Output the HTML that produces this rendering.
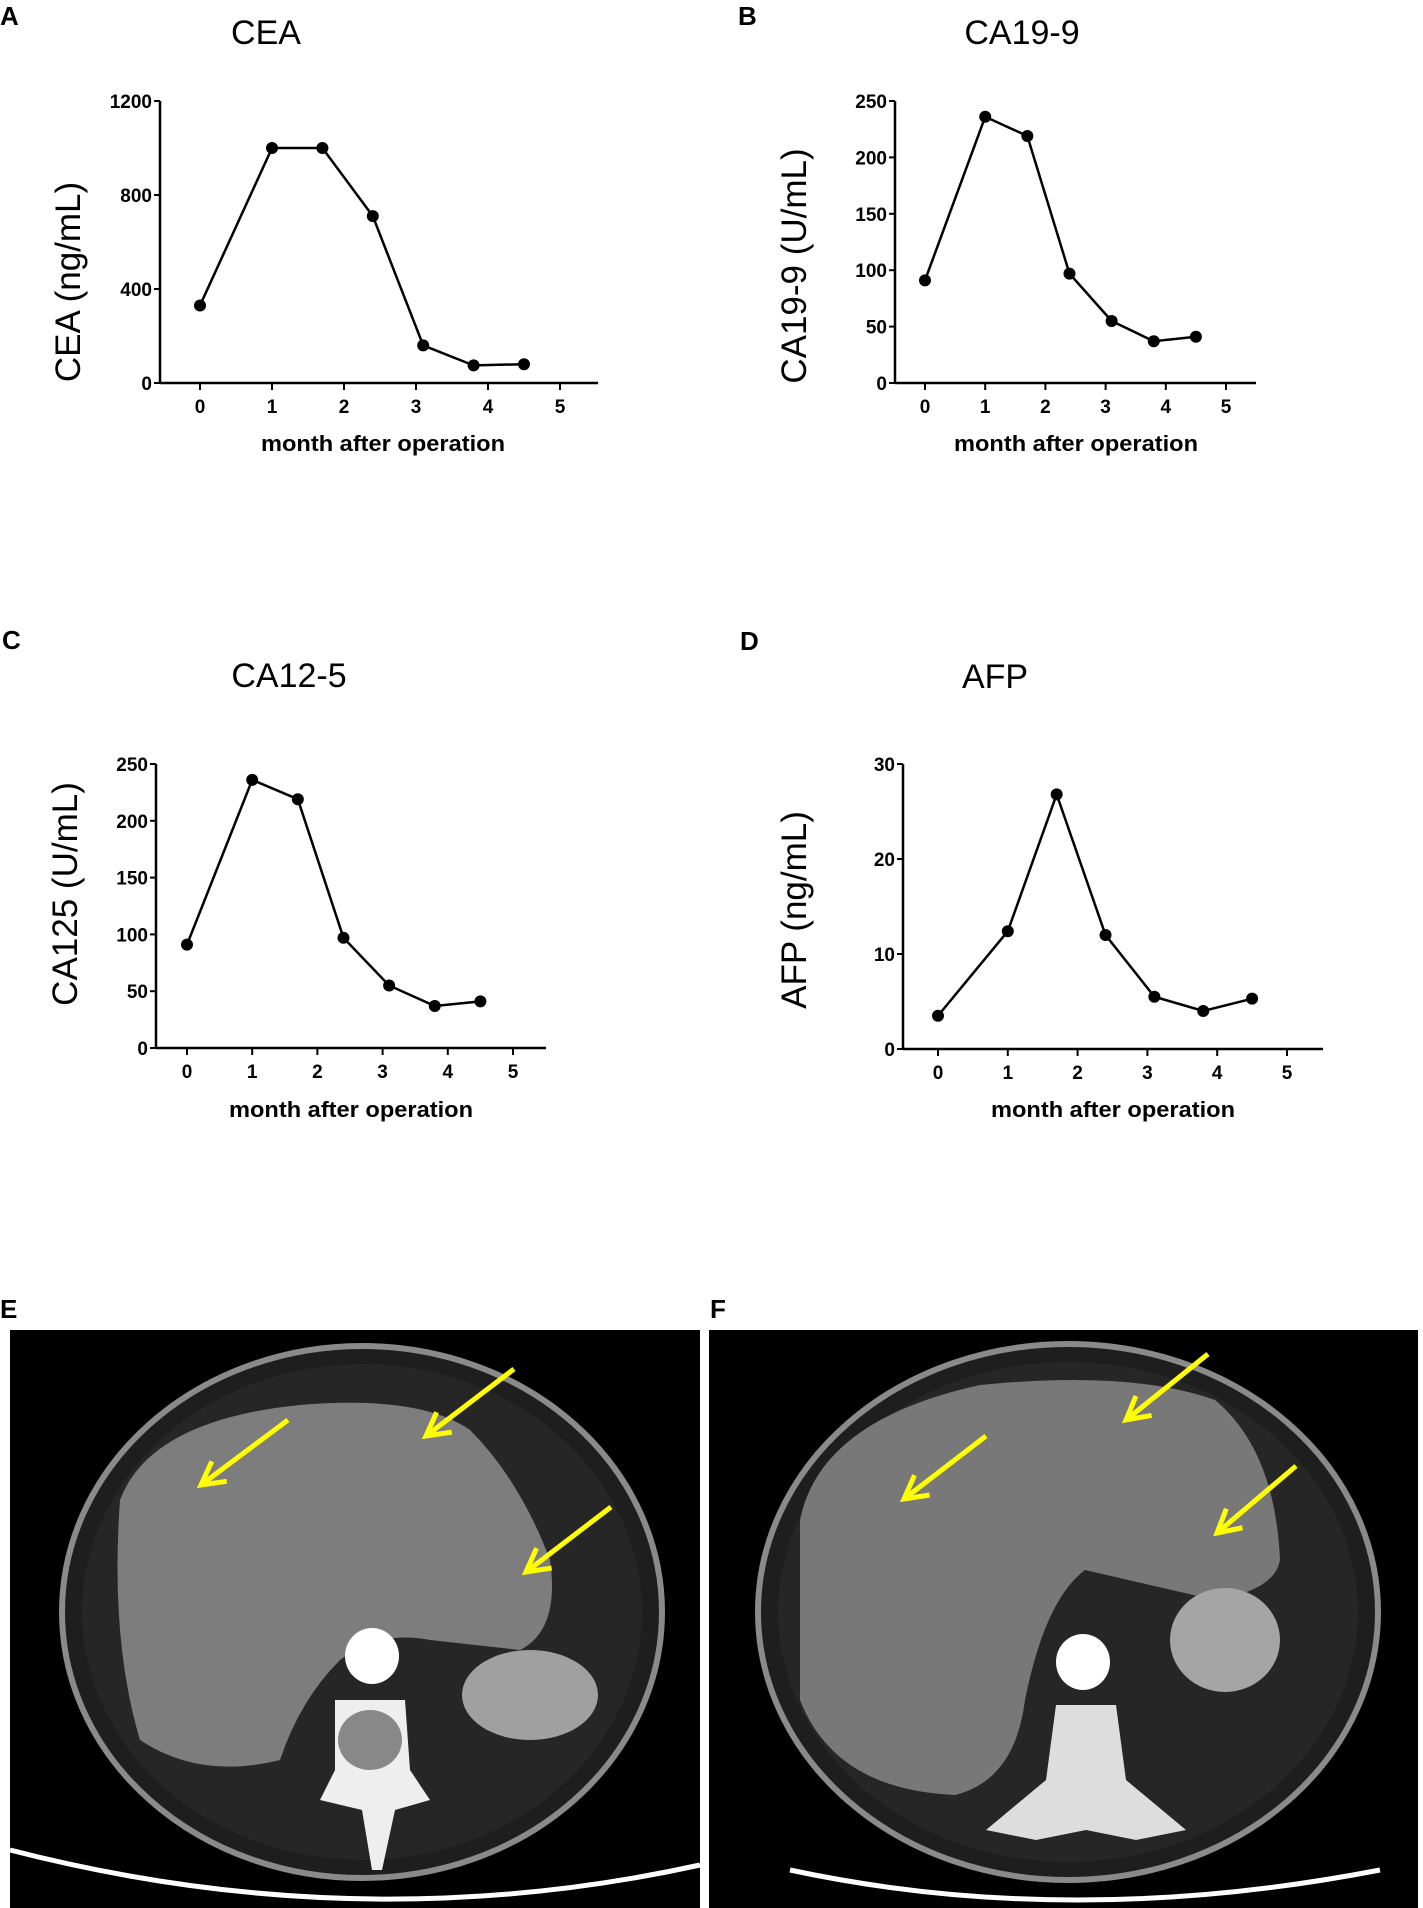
<!DOCTYPE html>
<html><head><meta charset="utf-8"><style>
html,body{margin:0;padding:0;background:#fff;}
svg{display:block;}
.lab{font-family:"Liberation Sans",sans-serif;font-weight:bold;font-size:26px;}
.ttl{font-family:"Liberation Sans",sans-serif;font-size:34px;}
.yt{font-family:"Liberation Sans",sans-serif;font-size:35px;}
.tk{font-family:"Liberation Sans Narrow","Liberation Sans",sans-serif;font-weight:bold;font-size:19px;}
.xt{font-family:"Liberation Sans",sans-serif;font-weight:bold;font-size:22px;}
</style></head><body>
<svg id="fig" width="1423" height="1908" viewBox="0 0 1423 1908" xmlns="http://www.w3.org/2000/svg">
<text class="lab" x="0" y="25">A</text>
<text class="lab" x="738" y="25">B</text>
<text class="lab" x="2" y="649">C</text>
<text class="lab" x="740" y="650">D</text>
<text class="lab" x="0" y="1318">E</text>
<text class="lab" x="710" y="1318">F</text>
<g id="charts"></g>
<g id="ct-e">
  <rect x="10" y="1330" width="690" height="578" fill="#000"/>
  <ellipse cx="362" cy="1612" rx="300" ry="266" fill="#1e1e1e" stroke="#8a8a8a" stroke-width="6"/>
  <ellipse cx="362" cy="1612" rx="280" ry="248" fill="#262626"/>
  <path d="M120 1500 Q150 1420 300 1405 Q420 1395 470 1430 Q520 1480 550 1560 Q560 1630 520 1650 L430 1640 Q380 1630 340 1660 Q300 1700 280 1760 Q200 1780 140 1740 Q110 1640 120 1500Z" fill="#7d7d7d"/>
  <ellipse cx="530" cy="1695" rx="68" ry="45" fill="#a0a0a0"/>
  <ellipse cx="372" cy="1656" rx="27" ry="28" fill="#fff"/>
  <path d="M335 1700 L405 1700 L410 1770 L430 1800 L395 1810 L382 1870 L372 1870 L362 1810 L320 1800 L335 1770Z" fill="#eee"/>
  <ellipse cx="370" cy="1740" rx="32" ry="30" fill="#888"/>
  <path d="M10 1850 Q360 1940 700 1865" stroke="#fff" stroke-width="5" fill="none"/>
</g>
<g id="ct-f">
  <rect x="709" y="1330" width="709" height="578" fill="#000"/>
  <ellipse cx="1068" cy="1612" rx="310" ry="268" fill="#1e1e1e" stroke="#8a8a8a" stroke-width="6"/>
  <ellipse cx="1068" cy="1612" rx="290" ry="250" fill="#262626"/>
  <path d="M800 1520 Q820 1420 980 1385 Q1130 1370 1215 1400 Q1275 1450 1280 1560 Q1275 1590 1215 1600 L1085 1570 Q1045 1600 1025 1700 Q1015 1780 955 1795 Q835 1790 800 1700Z" fill="#787878"/>
  <ellipse cx="1225" cy="1640" rx="55" ry="52" fill="#a5a5a5"/>
  <ellipse cx="1083" cy="1662" rx="27" ry="28" fill="#fff"/>
  <path d="M1056 1705 L1116 1705 L1126 1780 L1186 1830 L1136 1840 L1086 1830 L1036 1840 L986 1830 L1046 1780Z" fill="#ddd"/>
  <path d="M790 1870 Q1070 1930 1380 1870" stroke="#fff" stroke-width="5" fill="none"/>
</g>
<g id="arrows"></g>
</svg>
<script>
// ---- data (one set of arrays per chart) ----
const months = [0, 1, 1.7, 2.4, 3.1, 3.8, 4.5];
const xTicks = [0, 1, 2, 3, 4, 5];
const ceaValues = [330, 1000, 1000, 710, 160, 75, 80];
const ceaTicks = [0, 400, 800, 1200];
const ca199Values = [91, 236, 219, 97, 55, 37, 41];
const ca199Ticks = [0, 50, 100, 150, 200, 250];
const ca125Values = [91, 236, 219, 97, 55, 37, 41];
const ca125Ticks = [0, 50, 100, 150, 200, 250];
const afpValues = [3.5, 12.4, 26.8, 12, 5.5, 4, 5.3];
const afpTicks = [0, 10, 20, 30];

const NS = 'http://www.w3.org/2000/svg';
function mk(tag, attrs, parent){const e=document.createElementNS(NS,tag);for(const k in attrs)e.setAttribute(k,attrs[k]);parent.appendChild(e);return e;}

const layouts = [
 {key:'cea', title:'CEA', ytitle:'CEA (ng/mL)', vals:ceaValues, ticks:ceaTicks, ax:160, y0:383, yTop:101, x0:200, x5:560, axEnd:598, tx:266, ty:44, ytx:67, yty:282, xlx:383, xly:451},
 {key:'ca199', title:'CA19-9', ytitle:'CA19-9 (U/mL)', vals:ca199Values, ticks:ca199Ticks, ax:895, y0:383, yTop:101, x0:925, x5:1226, axEnd:1256, tx:1022, ty:44, ytx:793, yty:266, xlx:1076, xly:451},
 {key:'ca125', title:'CA12-5', ytitle:'CA125 (U/mL)', vals:ca125Values, ticks:ca125Ticks, ax:156, y0:1048, yTop:764, x0:187, x5:513, axEnd:546, tx:289, ty:687, ytx:64, yty:894, xlx:351, xly:1117},
 {key:'afp', title:'AFP', ytitle:'AFP (ng/mL)', vals:afpValues, ticks:afpTicks, ax:903, y0:1049, yTop:764, x0:938, x5:1287, axEnd:1323, tx:995, ty:688, ytx:793, yty:910, xlx:1113, xly:1117}
];
const root = document.getElementById('charts');
layouts.forEach(L=>{
  const g = mk('g',{},root);
  
  
  const yMax = L.ticks[L.ticks.length-1];
  const sy = v => L.y0 - (v/yMax)*(L.y0-L.yTop);
  const sx = m => L.x0 + m*(L.x5-L.x0)/5;
  const t = mk('text',{x:L.tx,y:L.ty,'text-anchor':'middle',class:'ttl'},g); t.textContent=L.title;
  
  
  const yt = mk('text',{x:0,y:0,'text-anchor':'middle',class:'yt',transform:`translate(${L.ytx+13},${L.yty}) rotate(-90)`},g); yt.textContent=L.ytitle;
  
  
  const xl = mk('text',{x:L.xlx,y:L.xly,'text-anchor':'middle',class:'xt',textLength:244,lengthAdjust:'spacingAndGlyphs'},g); xl.textContent='month after operation';
  
  
  const ya = mk('line',{x1:L.ax,y1:L.yTop,x2:L.ax,y2:L.y0,stroke:'#000','stroke-width':2.5},g);
  
  
  const xa = mk('line',{x1:L.ax,y1:L.y0,x2:L.axEnd,y2:L.y0,stroke:'#000','stroke-width':2.5},g);
  
  
  L.ticks.forEach(v=>{
    mk('line',{x1:L.ax-6,y1:sy(v),x2:L.ax,y2:sy(v),stroke:'#000','stroke-width':2},g);
    const tl = mk('text',{x:L.ax-8,y:sy(v)+7,'text-anchor':'end',class:'tk'},g); tl.textContent=v;
    
    
  });
  xTicks.forEach(m=>{
    mk('line',{x1:sx(m),y1:L.y0,x2:sx(m),y2:L.y0+7,stroke:'#000','stroke-width':2},g);
    const tl = mk('text',{x:sx(m),y:L.y0+30,'text-anchor':'middle',class:'tk'},g); tl.textContent=m;
    
    
  });
  const pts = months.map((m,i)=>sx(m)+','+sy(L.vals[i])).join(' ');
  const pl = mk('polyline',{points:pts,fill:'none',stroke:'#000','stroke-width':2.5},g);
  
  
  months.forEach((m,i)=>{
    const c = mk('circle',{cx:sx(m),cy:sy(L.vals[i]),r:6,fill:'#000'},g);
    
    
  });
});
const arrowList = [[288,1420,201,1485],[514,1369,426,1436],[611,1507,526,1572],[1208,1354,1126,1420],[986,1436,904,1499],[1296,1466,1217,1533]];
const ag = document.getElementById('arrows');
arrowList.forEach(a=>{
  const [x1,y1,x2,y2]=a;
  const g = mk('g',{},ag);
  
  
  mk('line',{x1:x1,y1:y1,x2:x2,y2:y2,stroke:'#ffff00','stroke-width':5},g);
  const ang=Math.atan2(y1-y2,x1-x2), L=26, sp=0.5;
  mk('polyline',{points:`${x2+L*Math.cos(ang+sp)},${y2+L*Math.sin(ang+sp)} ${x2},${y2} ${x2+L*Math.cos(ang-sp)},${y2+L*Math.sin(ang-sp)}`,fill:'none',stroke:'#ffff00','stroke-width':5},g);
});
</script>
</body></html>
